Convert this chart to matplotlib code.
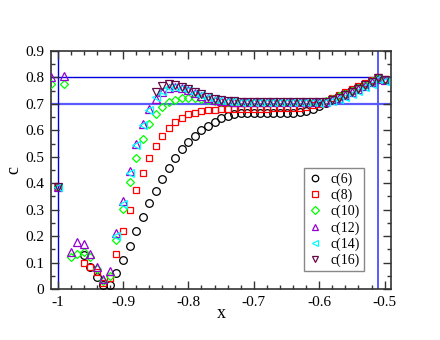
import numpy as np
import matplotlib
matplotlib.use("Agg")
import matplotlib.pyplot as plt
from matplotlib.ticker import MultipleLocator, FuncFormatter

plt.rcParams['font.family'] = ['Liberation Serif', 'DejaVu Serif']
plt.rcParams['axes.unicode_minus'] = False

nan = np.nan
x = [-1.01, -1.00, -0.99, -0.98, -0.97, -0.96, -0.95, -0.94, -0.93, -0.92,
     -0.91, -0.90, -0.89, -0.88, -0.87, -0.86, -0.85, -0.84, -0.83, -0.82,
     -0.81, -0.80, -0.79, -0.78, -0.77, -0.76, -0.75, -0.74, -0.73, -0.72,
     -0.71, -0.70, -0.69, -0.68, -0.67, -0.66, -0.65, -0.64, -0.63, -0.62,
     -0.61, -0.60, -0.59, -0.58, -0.57, -0.56, -0.55, -0.54, -0.53, -0.52,
     -0.51, -0.50]

c6 = [nan, 0.385, nan, nan, nan, 0.129, 0.085, 0.047, 0.016, 0.017,
      0.060, 0.111, 0.163, 0.219, 0.271, 0.324, 0.372, 0.416, 0.459, 0.497,
      0.529, 0.556, 0.580, 0.600, 0.617, 0.632, 0.645, 0.655, 0.661, 0.664,
      0.665, 0.666, 0.666, 0.666, 0.666, 0.666, 0.667, 0.667, 0.669, 0.672,
      0.680, 0.692, 0.705, 0.716, 0.728, 0.739, 0.751, 0.763, 0.776, 0.788,
      0.798, 0.792]

c8 = [nan, 0.385, nan, nan, nan, 0.097, 0.082, 0.065, 0.024, 0.042,
      0.131, 0.218, 0.299, 0.374, 0.440, 0.494, 0.541, 0.579, 0.610, 0.632,
      0.648, 0.660, 0.667, 0.672, 0.676, 0.678, 0.680, 0.681, 0.681, 0.682,
      0.682, 0.682, 0.682, 0.682, 0.683, 0.683, 0.683, 0.684, 0.685, 0.688,
      0.694, 0.701, 0.712, 0.723, 0.734, 0.746, 0.757, 0.768, 0.780, 0.791,
      0.801, 0.795]

c10 = [0.775, 0.385, 0.775, 0.120, 0.134, 0.141, 0.120, 0.075, 0.030, 0.050,
       0.186, 0.301, 0.403, 0.494, 0.566, 0.623, 0.662, 0.690, 0.706, 0.716,
       0.722, 0.724, 0.721, 0.717, 0.713, 0.710, 0.708, 0.707, 0.706, 0.706,
       0.706, 0.706, 0.706, 0.706, 0.706, 0.706, 0.706, 0.706, 0.706, 0.706,
       0.706, 0.707, 0.711, 0.718, 0.728, 0.738, 0.750, 0.761, 0.773, 0.786,
       0.798, 0.791]

c12 = [0.803, 0.385, 0.806, 0.141, 0.179, 0.169, 0.134, 0.085, 0.037, 0.069,
       0.210, 0.334, 0.445, 0.548, 0.625, 0.682, 0.720, 0.746, 0.760, 0.764,
       0.760, 0.751, 0.741, 0.731, 0.723, 0.716, 0.712, 0.710, 0.709, 0.708,
       0.708, 0.708, 0.708, 0.708, 0.708, 0.708, 0.708, 0.708, 0.708, 0.707,
       0.706, 0.706, 0.709, 0.714, 0.723, 0.733, 0.744, 0.756, 0.769, 0.782,
       0.796, 0.790]

c14 = [nan, 0.385, nan, nan, nan, nan, nan, nan, nan, nan,
       0.200, 0.320, 0.437, 0.543, 0.620, 0.678, 0.727, 0.750, 0.762, 0.765,
       0.761, 0.752, 0.742, 0.733, 0.725, 0.718, 0.714, 0.711, 0.710, 0.709,
       0.709, 0.709, 0.709, 0.709, 0.709, 0.709, 0.709, 0.709, 0.709, 0.708,
       0.706, 0.704, 0.706, 0.710, 0.718, 0.727, 0.738, 0.750, 0.763, 0.777,
       0.793, 0.788]

c16 = [nan, 0.385, nan, nan, nan, nan, nan, nan, nan, nan,
       nan, nan, nan, nan, nan, nan, 0.744, 0.768, 0.775, 0.772,
       0.765, 0.756, 0.746, 0.736, 0.727, 0.720, 0.715, 0.712, 0.710, 0.708,
       0.708, 0.708, 0.708, 0.708, 0.708, 0.708, 0.708, 0.708, 0.708, 0.707,
       0.706, 0.706, 0.709, 0.715, 0.724, 0.735, 0.746, 0.758, 0.771, 0.784,
       0.797, 0.791]

labels = ['c(6)', 'c(8)', 'c(10)', 'c(12)', 'c(14)', 'c(16)']
hlines = [0.8, 0.7]
vlines = [-1.0, -0.51]

series = [c6, c8, c10, c12, c14, c16]
markers = ['o', 's', 'D', '^', '<', 'v']
colors = ['#000000', '#ff0000', '#00ff00', '#9400d3', '#00ffff', '#670748']
msizes = [5.5, 5.0, 4.4, 5.5, 5.5, 5.5]

fig = plt.figure(figsize=(4.4, 3.4), dpi=100)
ax = fig.add_axes([0.116, 0.15, 0.773, 0.70])

ax.axhline(hlines[0], color='#0000dd', lw=1.0, zorder=1)
ax.axhline(hlines[1], color='#5a5aff', lw=1.6, zorder=1)
ax.axvline(vlines[0], color='#0000dd', lw=1.0, zorder=1)
ax.axvline(vlines[1], color='#5a5aff', lw=1.4, zorder=1)

for ys, m, c, ms, lab in zip(series, markers, colors, msizes, labels):
    ax.plot(x, ys, linestyle='none', marker=m, markersize=ms,
            markerfacecolor='none', markeredgecolor=c, markeredgewidth=0.9,
            label=lab, zorder=3)

ax.set_xlim(-1.01, -0.49)
ax.set_ylim(0, 0.9)
ax.xaxis.set_major_locator(MultipleLocator(0.1))
ax.xaxis.set_minor_locator(MultipleLocator(0.02))
ax.yaxis.set_major_locator(MultipleLocator(0.1))
ax.yaxis.set_minor_locator(MultipleLocator(0.05))
fmt = FuncFormatter(lambda v, p: ('%g' % round(v, 3)))
ax.xaxis.set_major_formatter(fmt)
ax.yaxis.set_major_formatter(fmt)
ax.tick_params(which='both', direction='in', top=True, right=True,
               labelsize=11, width=1.0, color='#333333')
ax.tick_params(which='major', length=6, pad=5)
ax.tick_params(which='minor', length=3)
for s in ax.spines.values():
    s.set_linewidth(1.2)
    s.set_color('#333333')

ax.set_xlabel('x', fontsize=13, labelpad=-3)
ax.set_ylabel('c', fontsize=13, labelpad=2)

leg = ax.legend(loc='upper left', bbox_to_anchor=(0.744, 0.508),
                fontsize=10, frameon=True, fancybox=False,
                edgecolor='#888888', framealpha=1, borderpad=0.3,
                labelspacing=0.2, handlelength=1.0, handletextpad=0.6,
                borderaxespad=0, markerscale=0.85)
leg.get_frame().set_linewidth(1.0)

fig.savefig('out.png', dpi=100)
